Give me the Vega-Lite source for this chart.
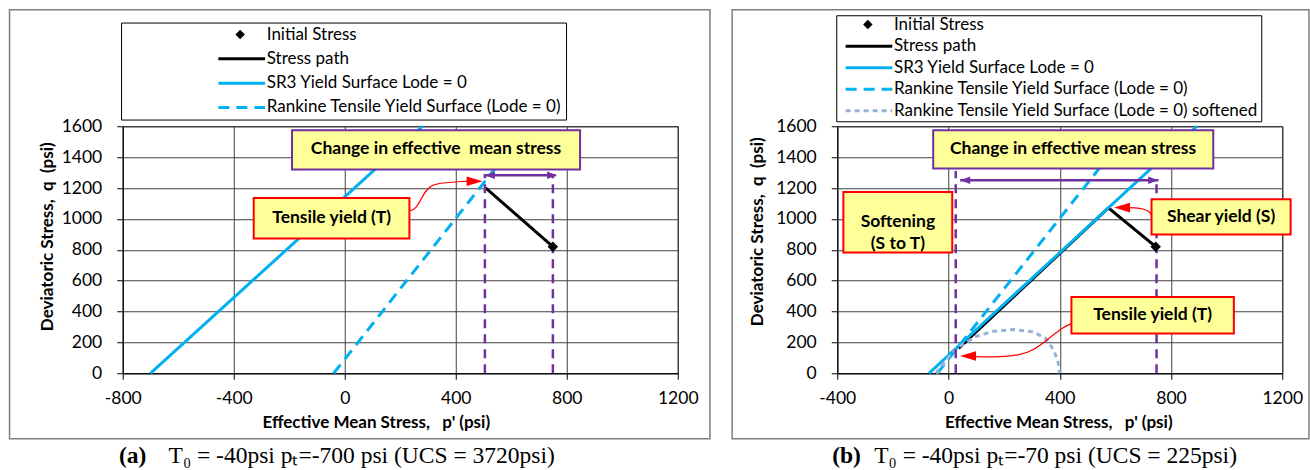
{
"$schema":"https://vega.github.io/schema/vega-lite/v6.json",
"background":"white",
"padding":{"left":7.75,"top":8.25,"right":0,"bottom":0},
"spacing":18.5,
"config":{
 "view":{"stroke":"black","strokeWidth":1},
 "axis":{"domainColor":"black","tickColor":"black","gridColor":"#404040","gridOpacity":1,"gridWidth":1,"grid":true,"labelFont":"Lato","labelFontSize":17.5,"labelColor":"black","titleFont":"Lato","titleFontSize":17,"titleFontWeight":"bold","titleColor":"black","tickSize":6,"labelFlush":false,"labelOverlap":false},
 "axisX":{"titleY":54,"titleBaseline":"alphabetic","titleAlign":"center"},
 "axisY":{"titleBaseline":"middle","titleAlign":"center","titleAngle":270},
 "legend":{"orient":"none","labelFont":"Lato","labelFontSize":17,"labelColor":"black","labelLimit":600,"strokeColor":"black","symbolType":"stroke","symbolSize":2180,"symbolStrokeWidth":3,"labelOffset":0,"titleFontSize":1,"titleOrient":"left"}
},
"datasets":{
 "a_lines":[
  {"series":"Stress path","i":0,"p":750,"q":820},
  {"series":"Stress path","i":1,"p":508,"q":1200},
  {"series":"SR3 Yield Surface Lode = 0","i":0,"p":-700,"q":0},
  {"series":"SR3 Yield Surface Lode = 0","i":1,"p":280,"q":1600},
  {"series":"Rankine Tensile Yield Surface (Lode = 0)","i":0,"p":-40,"q":0},
  {"series":"Rankine Tensile Yield Surface (Lode = 0)","i":1,"p":596,"q":1450}
 ],
 "a_init":[{"p":750,"q":820}],
 "a_vl":[{"p":505,"q":0,"q2":1290},{"p":750,"q":0,"q2":1290}],
 "a_arrow":[{"p":505,"p2":760,"q":1283}],
 "a_heads":[{"dir":"pl","p":523,"q":1283},{"dir":"pr","p":747,"q":1283}],
 "a_conn":[{"i":0,"p":233,"q":1051},{"i":1,"p":257,"q":1060},{"i":2,"p":287,"q":1174},{"i":3,"p":311,"q":1218},{"i":4,"p":347,"q":1233},{"i":5,"p":430,"q":1244},{"i":6,"p":460,"q":1244}],
 "a_rheads":[{"dir":"rr","p":468,"q":1244}],
 "a_boxes":[
  {"label":"Change in effective\u00a0 mean stress","kind":"purple","p":-190,"p2":848,"q":1574,"q2":1320,"pc":329,"qc":1452},
  {"label":"Tensile yield (T)","kind":"red","p":-328,"p2":233,"q":1136,"q2":873,"pc":-47,"qc":1006}
 ],
 "b_lines":[
  {"series":"Stress path","i":0,"p":745,"q":820},
  {"series":"Stress path","i":1,"p":575,"q":1071},
  {"series":"Stress path","i":2,"p":36,"q":161},
  {"series":"SR3 Yield Surface Lode = 0","i":0,"p":-70,"q":0},
  {"series":"SR3 Yield Surface Lode = 0","i":1,"p":893,"q":1600},
  {"series":"Rankine Tensile Yield Surface (Lode = 0)","i":0,"p":-40,"q":0},
  {"series":"Rankine Tensile Yield Surface (Lode = 0)","i":1,"p":596,"q":1450},
  {"series":"Rankine Tensile Yield Surface (Lode = 0) softened","i":0,"p":-45,"q":0},
  {"series":"Rankine Tensile Yield Surface (Lode = 0) softened","i":1,"p":-19,"q":63},
  {"series":"Rankine Tensile Yield Surface (Lode = 0) softened","i":2,"p":11,"q":128},
  {"series":"Rankine Tensile Yield Surface (Lode = 0) softened","i":3,"p":41,"q":175},
  {"series":"Rankine Tensile Yield Surface (Lode = 0) softened","i":4,"p":101,"q":240},
  {"series":"Rankine Tensile Yield Surface (Lode = 0) softened","i":5,"p":161,"q":272},
  {"series":"Rankine Tensile Yield Surface (Lode = 0) softened","i":6,"p":233,"q":283},
  {"series":"Rankine Tensile Yield Surface (Lode = 0) softened","i":7,"p":305,"q":268},
  {"series":"Rankine Tensile Yield Surface (Lode = 0) softened","i":8,"p":350,"q":225},
  {"series":"Rankine Tensile Yield Surface (Lode = 0) softened","i":9,"p":378,"q":150},
  {"series":"Rankine Tensile Yield Surface (Lode = 0) softened","i":10,"p":393,"q":80},
  {"series":"Rankine Tensile Yield Surface (Lode = 0) softened","i":11,"p":400,"q":0}
 ],
 "b_init":[{"p":745,"q":820}],
 "b_vl":[{"p":26,"q":0,"q2":1310},{"p":748,"q":0,"q2":1250}],
 "b_arrow":[{"p":42,"p2":755,"q":1250}],
 "b_heads":[{"dir":"pl","p":60,"q":1250},{"dir":"pr","p":736,"q":1250}],
 "b_conn":[
  {"id":"S","i":0,"p":730,"q":1023},{"id":"S","i":1,"p":724,"q":1045},{"id":"S","i":2,"p":705,"q":1064},{"id":"S","i":3,"p":670,"q":1073},{"id":"S","i":4,"p":632,"q":1073},
  {"id":"T","i":0,"p":442,"q":322},{"id":"T","i":1,"p":413,"q":300},{"id":"T","i":2,"p":353,"q":214},{"id":"T","i":3,"p":305,"q":149},{"id":"T","i":4,"p":257,"q":117},{"id":"T","i":5,"p":185,"q":106},{"id":"T","i":6,"p":110,"q":106},{"id":"T","i":7,"p":80,"q":110}
 ],
 "b_rheads":[{"dir":"rl","p":624,"q":1073},{"dir":"rl","p":70,"q":112}],
 "b_boxes":[
  {"label":"Change in effective mean stress","kind":"purple","p":-55,"p2":952,"q":1574,"q2":1326,"pc":448,"qc":1452},
  {"label":"Softening\n(S to T)","kind":"red","p":-378,"p2":13.5,"q":1174,"q2":782,"pc":-182,"qc":978},
  {"label":"Shear yield (S)","kind":"red","p":730,"p2":1230,"q":1127,"q2":898,"pc":980,"qc":1010},
  {"label":"Tensile yield (T)","kind":"red","p":442,"p2":1026,"q":494,"q2":257,"pc":734,"qc":376}
 ]
},
"resolve":{"scale":{"color":"independent","strokeDash":"independent"},"legend":{"color":"independent","strokeDash":"independent"}},
"hconcat":[
 {"width":555,"height":247,
  "layer":[
  {"data":{"name":"a_lines"},"mark":{"type":"line","strokeWidth":3},
   "encoding":{
    "x":{"field":"p","type":"quantitative","scale":{"domain":[-800,1200],"nice":false,"zero":false},"axis":{"values":[-800,-400,0,400,800,1200],"labelExpr":"''+datum.value","title":"Effective Mean Stress,\u00a0\u00a0 p' (psi)","titleX":253,"labelPadding":10.5}},
    "y":{"field":"q","type":"quantitative","scale":{"domain":[0,1600],"nice":false,"zero":false},"axis":{"values":[0,200,400,600,800,1000,1200,1400,1600],"labelExpr":"''+datum.value","title":"Deviatoric Stress,\u00a0 q\u00a0 (psi)","titleX":-75,"titleY":110,"labelPadding":15}},
    "order":{"field":"i"},
    "color":{"field":"series","type":"nominal","scale":{"domain":["Initial Stress","Stress path","SR3 Yield Surface Lode = 0","Rankine Tensile Yield Surface (Lode = 0)"],"range":["transparent","black","#00B0F0","#00B0F0"]},
     "legend":{"title":" ","legendX":-1.7,"legendY":-103.7,"padding":4,"clipHeight":16,"rowPadding":7.3,"titlePadding":91.7}},
    "strokeDash":{"field":"series","type":"nominal","scale":{"domain":["Initial Stress","Stress path","SR3 Yield Surface Lode = 0","Rankine Tensile Yield Surface (Lode = 0)"],"range":[[1,0],[1,0],[1,0],[11,7]]},
     "legend":{"title":" ","legendX":-1.7,"legendY":-103.7,"padding":4,"clipHeight":16,"rowPadding":7.3,"titlePadding":91.7}}
   }},
  {"data":{"values":[{}]},"mark":{"type":"rect","fill":"transparent","stroke":"#7f7f7f","strokeWidth":1.5},
   "encoding":{"x":{"datum":-1208,"type":"quantitative","scale":{"domain":[-800,1200],"nice":false,"zero":false},"axis":{"values":[-800,-400,0,400,800,1200],"labelExpr":"''+datum.value","title":"Effective Mean Stress,\u00a0\u00a0 p' (psi)","titleX":253,"labelPadding":10.5}},"x2":{"datum":1316},
    "y":{"datum":2355,"type":"quantitative","scale":{"domain":[0,1600],"nice":false,"zero":false},"axis":{"values":[0,200,400,600,800,1000,1200,1400,1600],"labelExpr":"''+datum.value","title":"Deviatoric Stress,\u00a0 q\u00a0 (psi)","titleX":-75,"titleY":110,"labelPadding":15}},"y2":{"datum":-424}}},
  {"data":{"values":[{}]},"mark":{"type":"point","shape":"diamond","filled":true,"color":"black","size":90,"opacity":1},
   "encoding":{"x":{"datum":-377,"type":"quantitative","scale":{"domain":[-800,1200],"nice":false,"zero":false},"axis":{"values":[-800,-400,0,400,800,1200],"labelExpr":"''+datum.value","title":"Effective Mean Stress,\u00a0\u00a0 p' (psi)","titleX":253,"labelPadding":10.5}},
    "y":{"datum":2194,"type":"quantitative","scale":{"domain":[0,1600],"nice":false,"zero":false},"axis":{"values":[0,200,400,600,800,1000,1200,1400,1600],"labelExpr":"''+datum.value","title":"Deviatoric Stress,\u00a0 q\u00a0 (psi)","titleX":-75,"titleY":110,"labelPadding":15}}}},
  {"data":{"name":"a_vl"},"mark":{"type":"rule","color":"#7030A0","strokeWidth":2.5,"strokeDash":[9,6]},
   "encoding":{"x":{"field":"p","type":"quantitative","scale":{"domain":[-800,1200],"nice":false,"zero":false},"axis":{"values":[-800,-400,0,400,800,1200],"labelExpr":"''+datum.value","title":"Effective Mean Stress,\u00a0\u00a0 p' (psi)","titleX":253,"labelPadding":10.5}},
    "y":{"field":"q","type":"quantitative","scale":{"domain":[0,1600],"nice":false,"zero":false},"axis":{"values":[0,200,400,600,800,1000,1200,1400,1600],"labelExpr":"''+datum.value","title":"Deviatoric Stress,\u00a0 q\u00a0 (psi)","titleX":-75,"titleY":110,"labelPadding":15}},"y2":{"field":"q2"}}},
  {"data":{"name":"a_arrow"},"mark":{"type":"rule","color":"#7030A0","strokeWidth":2.5},
   "encoding":{"x":{"field":"p","type":"quantitative","scale":{"domain":[-800,1200],"nice":false,"zero":false},"axis":{"values":[-800,-400,0,400,800,1200],"labelExpr":"''+datum.value","title":"Effective Mean Stress,\u00a0\u00a0 p' (psi)","titleX":253,"labelPadding":10.5}},"x2":{"field":"p2"},
    "y":{"field":"q","type":"quantitative","scale":{"domain":[0,1600],"nice":false,"zero":false},"axis":{"values":[0,200,400,600,800,1000,1200,1400,1600],"labelExpr":"''+datum.value","title":"Deviatoric Stress,\u00a0 q\u00a0 (psi)","titleX":-75,"titleY":110,"labelPadding":15}}}},
  {"data":{"name":"a_heads"},"mark":{"type":"point","filled":true,"color":"#7030A0","size":100,"opacity":1},
   "encoding":{"x":{"field":"p","type":"quantitative","scale":{"domain":[-800,1200],"nice":false,"zero":false},"axis":{"values":[-800,-400,0,400,800,1200],"labelExpr":"''+datum.value","title":"Effective Mean Stress,\u00a0\u00a0 p' (psi)","titleX":253,"labelPadding":10.5}},
    "y":{"field":"q","type":"quantitative","scale":{"domain":[0,1600],"nice":false,"zero":false},"axis":{"values":[0,200,400,600,800,1000,1200,1400,1600],"labelExpr":"''+datum.value","title":"Deviatoric Stress,\u00a0 q\u00a0 (psi)","titleX":-75,"titleY":110,"labelPadding":15}},
    "shape":{"field":"dir","type":"nominal","scale":{"domain":["pl","pr","rl","rr"],"range":["M-1,0L1,-0.75L1,0.75Z","M1,0L-1,-0.75L-1,0.75Z","M-1,0L1,-0.6L1,0.6Z","M1,0L-1,-0.6L-1,0.6Z"]},"legend":null}}},
  {"data":{"name":"a_init"},"mark":{"type":"point","shape":"diamond","filled":true,"color":"black","size":110,"opacity":1},
   "encoding":{"x":{"field":"p","type":"quantitative","scale":{"domain":[-800,1200],"nice":false,"zero":false},"axis":{"values":[-800,-400,0,400,800,1200],"labelExpr":"''+datum.value","title":"Effective Mean Stress,\u00a0\u00a0 p' (psi)","titleX":253,"labelPadding":10.5}},
    "y":{"field":"q","type":"quantitative","scale":{"domain":[0,1600],"nice":false,"zero":false},"axis":{"values":[0,200,400,600,800,1000,1200,1400,1600],"labelExpr":"''+datum.value","title":"Deviatoric Stress,\u00a0 q\u00a0 (psi)","titleX":-75,"titleY":110,"labelPadding":15}}}},
  {"data":{"name":"a_conn"},"mark":{"type":"line","color":"#FF0000","strokeWidth":1.2,"interpolate":"basis"},
   "encoding":{"x":{"field":"p","type":"quantitative","scale":{"domain":[-800,1200],"nice":false,"zero":false},"axis":{"values":[-800,-400,0,400,800,1200],"labelExpr":"''+datum.value","title":"Effective Mean Stress,\u00a0\u00a0 p' (psi)","titleX":253,"labelPadding":10.5}},
    "y":{"field":"q","type":"quantitative","scale":{"domain":[0,1600],"nice":false,"zero":false},"axis":{"values":[0,200,400,600,800,1000,1200,1400,1600],"labelExpr":"''+datum.value","title":"Deviatoric Stress,\u00a0 q\u00a0 (psi)","titleX":-75,"titleY":110,"labelPadding":15}},"order":{"field":"i"}}},
  {"data":{"name":"a_rheads"},"mark":{"type":"point","filled":true,"color":"#FF0000","size":256,"opacity":1},
   "encoding":{"x":{"field":"p","type":"quantitative","scale":{"domain":[-800,1200],"nice":false,"zero":false},"axis":{"values":[-800,-400,0,400,800,1200],"labelExpr":"''+datum.value","title":"Effective Mean Stress,\u00a0\u00a0 p' (psi)","titleX":253,"labelPadding":10.5}},
    "y":{"field":"q","type":"quantitative","scale":{"domain":[0,1600],"nice":false,"zero":false},"axis":{"values":[0,200,400,600,800,1000,1200,1400,1600],"labelExpr":"''+datum.value","title":"Deviatoric Stress,\u00a0 q\u00a0 (psi)","titleX":-75,"titleY":110,"labelPadding":15}},
    "shape":{"field":"dir","type":"nominal","scale":{"domain":["pl","pr","rl","rr"],"range":["M-1,0L1,-0.75L1,0.75Z","M1,0L-1,-0.75L-1,0.75Z","M-1,0L1,-0.6L1,0.6Z","M1,0L-1,-0.6L-1,0.6Z"]},"legend":null}}},
  {"data":{"name":"a_boxes"},"mark":{"type":"rect","fill":"#a6a6a6","opacity":0.45,"xOffset":3,"yOffset":3},
   "encoding":{"x":{"field":"p","type":"quantitative","scale":{"domain":[-800,1200],"nice":false,"zero":false},"axis":{"values":[-800,-400,0,400,800,1200],"labelExpr":"''+datum.value","title":"Effective Mean Stress,\u00a0\u00a0 p' (psi)","titleX":253,"labelPadding":10.5}},"x2":{"field":"p2"},
    "y":{"field":"q","type":"quantitative","scale":{"domain":[0,1600],"nice":false,"zero":false},"axis":{"values":[0,200,400,600,800,1000,1200,1400,1600],"labelExpr":"''+datum.value","title":"Deviatoric Stress,\u00a0 q\u00a0 (psi)","titleX":-75,"titleY":110,"labelPadding":15}},"y2":{"field":"q2"}}},
  {"data":{"name":"a_boxes"},"mark":{"type":"rect","fill":"#FFFF99","strokeWidth":2},
   "encoding":{"x":{"field":"p","type":"quantitative","scale":{"domain":[-800,1200],"nice":false,"zero":false},"axis":{"values":[-800,-400,0,400,800,1200],"labelExpr":"''+datum.value","title":"Effective Mean Stress,\u00a0\u00a0 p' (psi)","titleX":253,"labelPadding":10.5}},"x2":{"field":"p2"},
    "y":{"field":"q","type":"quantitative","scale":{"domain":[0,1600],"nice":false,"zero":false},"axis":{"values":[0,200,400,600,800,1000,1200,1400,1600],"labelExpr":"''+datum.value","title":"Deviatoric Stress,\u00a0 q\u00a0 (psi)","titleX":-75,"titleY":110,"labelPadding":15}},"y2":{"field":"q2"},
    "stroke":{"field":"kind","type":"nominal","scale":{"domain":["purple","red"],"range":["#7030A0","#FF0000"]},"legend":null}}},
  {"data":{"name":"a_boxes"},"mark":{"type":"text","font":"Lato","fontSize":17.5,"fontWeight":"bold","color":"black","lineBreak":"\n","lineHeight":22},
   "encoding":{"x":{"field":"pc","type":"quantitative","scale":{"domain":[-800,1200],"nice":false,"zero":false},"axis":{"values":[-800,-400,0,400,800,1200],"labelExpr":"''+datum.value","title":"Effective Mean Stress,\u00a0\u00a0 p' (psi)","titleX":253,"labelPadding":10.5}},
    "y":{"field":"qc","type":"quantitative","scale":{"domain":[0,1600],"nice":false,"zero":false},"axis":{"values":[0,200,400,600,800,1000,1200,1400,1600],"labelExpr":"''+datum.value","title":"Deviatoric Stress,\u00a0 q\u00a0 (psi)","titleX":-75,"titleY":110,"labelPadding":15}},"text":{"field":"label"}}},
  {"data":{"values":[{"t":"(a)"}]},"mark":{"type":"text","font":"Liberation Serif","fontSize":23.5,"fontWeight":"bold","align":"right","baseline":"alphabetic","color":"black"},
   "encoding":{"x":{"datum":-715,"type":"quantitative","scale":{"domain":[-800,1200],"nice":false,"zero":false},"axis":{"values":[-800,-400,0,400,800,1200],"labelExpr":"''+datum.value","title":"Effective Mean Stress,\u00a0\u00a0 p' (psi)","titleX":253,"labelPadding":10.5}},
    "y":{"datum":-580,"type":"quantitative","scale":{"domain":[0,1600],"nice":false,"zero":false},"axis":{"values":[0,200,400,600,800,1000,1200,1400,1600],"labelExpr":"''+datum.value","title":"Deviatoric Stress,\u00a0 q\u00a0 (psi)","titleX":-75,"titleY":110,"labelPadding":15}},"text":{"field":"t"}}},
  {"data":{"values":[{"t":"T₀ = -40psi pₜ=-700 psi (UCS = 3720psi)"}]},"mark":{"type":"text","font":"Liberation Serif","fontSize":23.5,"align":"left","baseline":"alphabetic","color":"black"},
   "encoding":{"x":{"datum":-635,"type":"quantitative","scale":{"domain":[-800,1200],"nice":false,"zero":false},"axis":{"values":[-800,-400,0,400,800,1200],"labelExpr":"''+datum.value","title":"Effective Mean Stress,\u00a0\u00a0 p' (psi)","titleX":253,"labelPadding":10.5}},
    "y":{"datum":-580,"type":"quantitative","scale":{"domain":[0,1600],"nice":false,"zero":false},"axis":{"values":[0,200,400,600,800,1000,1200,1400,1600],"labelExpr":"''+datum.value","title":"Deviatoric Stress,\u00a0 q\u00a0 (psi)","titleX":-75,"titleY":110,"labelPadding":15}},"text":{"field":"t"}}}
 ]},
 {"width":445,"height":247,
  "layer":[
  {"data":{"name":"b_lines"},"mark":{"type":"line","strokeWidth":3},
   "encoding":{
    "x":{"field":"p","type":"quantitative","scale":{"domain":[-400,1200],"nice":false,"zero":false},"axis":{"values":[-400,0,400,800,1200],"labelExpr":"''+datum.value","title":"Effective Mean Stress,\u00a0\u00a0 p' (psi)","titleX":221,"labelPadding":10.5}},
    "y":{"field":"q","type":"quantitative","scale":{"domain":[0,1600],"nice":false,"zero":false},"axis":{"values":[0,200,400,600,800,1000,1200,1400,1600],"labelExpr":"''+datum.value","title":"Deviatoric Stress,\u00a0 q\u00a0 (psi)","titleX":-80,"titleY":105,"labelPadding":15}},
    "order":{"field":"i"},
    "color":{"field":"series","type":"nominal","scale":{"domain":["Initial Stress","Stress path","SR3 Yield Surface Lode = 0","Rankine Tensile Yield Surface (Lode = 0)","Rankine Tensile Yield Surface (Lode = 0) softened"],"range":["transparent","black","#00B0F0","#00B0F0","#95B3D7"]},
     "legend":{"title":" ","legendX":-1,"legendY":-111,"padding":2,"clipHeight":15,"rowPadding":3.5,"titlePadding":5.7}},
    "strokeDash":{"field":"series","type":"nominal","scale":{"domain":["Initial Stress","Stress path","SR3 Yield Surface Lode = 0","Rankine Tensile Yield Surface (Lode = 0)","Rankine Tensile Yield Surface (Lode = 0) softened"],"range":[[1,0],[1,0],[1,0],[11,7],[5,4]]},
     "legend":{"title":" ","legendX":-1,"legendY":-111,"padding":2,"clipHeight":15,"rowPadding":3.5,"titlePadding":5.7}}
   }},
  {"data":{"values":[{}]},"mark":{"type":"rect","fill":"transparent","stroke":"#7f7f7f","strokeWidth":1.5},
   "encoding":{"x":{"datum":-778,"type":"quantitative","scale":{"domain":[-400,1200],"nice":false,"zero":false},"axis":{"values":[-400,0,400,800,1200],"labelExpr":"''+datum.value","title":"Effective Mean Stress,\u00a0\u00a0 p' (psi)","titleX":221,"labelPadding":10.5}},"x2":{"datum":1296},
    "y":{"datum":2355,"type":"quantitative","scale":{"domain":[0,1600],"nice":false,"zero":false},"axis":{"values":[0,200,400,600,800,1000,1200,1400,1600],"labelExpr":"''+datum.value","title":"Deviatoric Stress,\u00a0 q\u00a0 (psi)","titleX":-80,"titleY":105,"labelPadding":15}},"y2":{"datum":-424}}},
  {"data":{"values":[{}]},"mark":{"type":"point","shape":"diamond","filled":true,"color":"black","size":90,"opacity":1},
   "encoding":{"x":{"datum":-290,"type":"quantitative","scale":{"domain":[-400,1200],"nice":false,"zero":false},"axis":{"values":[-400,0,400,800,1200],"labelExpr":"''+datum.value","title":"Effective Mean Stress,\u00a0\u00a0 p' (psi)","titleX":221,"labelPadding":10.5}},
    "y":{"datum":2259,"type":"quantitative","scale":{"domain":[0,1600],"nice":false,"zero":false},"axis":{"values":[0,200,400,600,800,1000,1200,1400,1600],"labelExpr":"''+datum.value","title":"Deviatoric Stress,\u00a0 q\u00a0 (psi)","titleX":-80,"titleY":105,"labelPadding":15}}}},
  {"data":{"name":"b_vl"},"mark":{"type":"rule","color":"#7030A0","strokeWidth":2.5,"strokeDash":[9,6]},
   "encoding":{"x":{"field":"p","type":"quantitative","scale":{"domain":[-400,1200],"nice":false,"zero":false},"axis":{"values":[-400,0,400,800,1200],"labelExpr":"''+datum.value","title":"Effective Mean Stress,\u00a0\u00a0 p' (psi)","titleX":221,"labelPadding":10.5}},
    "y":{"field":"q","type":"quantitative","scale":{"domain":[0,1600],"nice":false,"zero":false},"axis":{"values":[0,200,400,600,800,1000,1200,1400,1600],"labelExpr":"''+datum.value","title":"Deviatoric Stress,\u00a0 q\u00a0 (psi)","titleX":-80,"titleY":105,"labelPadding":15}},"y2":{"field":"q2"}}},
  {"data":{"name":"b_arrow"},"mark":{"type":"rule","color":"#7030A0","strokeWidth":2.5},
   "encoding":{"x":{"field":"p","type":"quantitative","scale":{"domain":[-400,1200],"nice":false,"zero":false},"axis":{"values":[-400,0,400,800,1200],"labelExpr":"''+datum.value","title":"Effective Mean Stress,\u00a0\u00a0 p' (psi)","titleX":221,"labelPadding":10.5}},"x2":{"field":"p2"},
    "y":{"field":"q","type":"quantitative","scale":{"domain":[0,1600],"nice":false,"zero":false},"axis":{"values":[0,200,400,600,800,1000,1200,1400,1600],"labelExpr":"''+datum.value","title":"Deviatoric Stress,\u00a0 q\u00a0 (psi)","titleX":-80,"titleY":105,"labelPadding":15}}}},
  {"data":{"name":"b_heads"},"mark":{"type":"point","filled":true,"color":"#7030A0","size":100,"opacity":1},
   "encoding":{"x":{"field":"p","type":"quantitative","scale":{"domain":[-400,1200],"nice":false,"zero":false},"axis":{"values":[-400,0,400,800,1200],"labelExpr":"''+datum.value","title":"Effective Mean Stress,\u00a0\u00a0 p' (psi)","titleX":221,"labelPadding":10.5}},
    "y":{"field":"q","type":"quantitative","scale":{"domain":[0,1600],"nice":false,"zero":false},"axis":{"values":[0,200,400,600,800,1000,1200,1400,1600],"labelExpr":"''+datum.value","title":"Deviatoric Stress,\u00a0 q\u00a0 (psi)","titleX":-80,"titleY":105,"labelPadding":15}},
    "shape":{"field":"dir","type":"nominal","scale":{"domain":["pl","pr","rl","rr"],"range":["M-1,0L1,-0.75L1,0.75Z","M1,0L-1,-0.75L-1,0.75Z","M-1,0L1,-0.6L1,0.6Z","M1,0L-1,-0.6L-1,0.6Z"]},"legend":null}}},
  {"data":{"name":"b_init"},"mark":{"type":"point","shape":"diamond","filled":true,"color":"black","size":110,"opacity":1},
   "encoding":{"x":{"field":"p","type":"quantitative","scale":{"domain":[-400,1200],"nice":false,"zero":false},"axis":{"values":[-400,0,400,800,1200],"labelExpr":"''+datum.value","title":"Effective Mean Stress,\u00a0\u00a0 p' (psi)","titleX":221,"labelPadding":10.5}},
    "y":{"field":"q","type":"quantitative","scale":{"domain":[0,1600],"nice":false,"zero":false},"axis":{"values":[0,200,400,600,800,1000,1200,1400,1600],"labelExpr":"''+datum.value","title":"Deviatoric Stress,\u00a0 q\u00a0 (psi)","titleX":-80,"titleY":105,"labelPadding":15}}}},
  {"data":{"name":"b_conn"},"mark":{"type":"line","color":"#FF0000","strokeWidth":1.2,"interpolate":"basis"},
   "encoding":{"x":{"field":"p","type":"quantitative","scale":{"domain":[-400,1200],"nice":false,"zero":false},"axis":{"values":[-400,0,400,800,1200],"labelExpr":"''+datum.value","title":"Effective Mean Stress,\u00a0\u00a0 p' (psi)","titleX":221,"labelPadding":10.5}},
    "y":{"field":"q","type":"quantitative","scale":{"domain":[0,1600],"nice":false,"zero":false},"axis":{"values":[0,200,400,600,800,1000,1200,1400,1600],"labelExpr":"''+datum.value","title":"Deviatoric Stress,\u00a0 q\u00a0 (psi)","titleX":-80,"titleY":105,"labelPadding":15}},"detail":{"field":"id"},"order":{"field":"i"}}},
  {"data":{"name":"b_rheads"},"mark":{"type":"point","filled":true,"color":"#FF0000","size":256,"opacity":1},
   "encoding":{"x":{"field":"p","type":"quantitative","scale":{"domain":[-400,1200],"nice":false,"zero":false},"axis":{"values":[-400,0,400,800,1200],"labelExpr":"''+datum.value","title":"Effective Mean Stress,\u00a0\u00a0 p' (psi)","titleX":221,"labelPadding":10.5}},
    "y":{"field":"q","type":"quantitative","scale":{"domain":[0,1600],"nice":false,"zero":false},"axis":{"values":[0,200,400,600,800,1000,1200,1400,1600],"labelExpr":"''+datum.value","title":"Deviatoric Stress,\u00a0 q\u00a0 (psi)","titleX":-80,"titleY":105,"labelPadding":15}},
    "shape":{"field":"dir","type":"nominal","scale":{"domain":["pl","pr","rl","rr"],"range":["M-1,0L1,-0.75L1,0.75Z","M1,0L-1,-0.75L-1,0.75Z","M-1,0L1,-0.6L1,0.6Z","M1,0L-1,-0.6L-1,0.6Z"]},"legend":null}}},
  {"data":{"name":"b_boxes"},"mark":{"type":"rect","fill":"#a6a6a6","opacity":0.45,"xOffset":3,"yOffset":3},
   "encoding":{"x":{"field":"p","type":"quantitative","scale":{"domain":[-400,1200],"nice":false,"zero":false},"axis":{"values":[-400,0,400,800,1200],"labelExpr":"''+datum.value","title":"Effective Mean Stress,\u00a0\u00a0 p' (psi)","titleX":221,"labelPadding":10.5}},"x2":{"field":"p2"},
    "y":{"field":"q","type":"quantitative","scale":{"domain":[0,1600],"nice":false,"zero":false},"axis":{"values":[0,200,400,600,800,1000,1200,1400,1600],"labelExpr":"''+datum.value","title":"Deviatoric Stress,\u00a0 q\u00a0 (psi)","titleX":-80,"titleY":105,"labelPadding":15}},"y2":{"field":"q2"}}},
  {"data":{"name":"b_boxes"},"mark":{"type":"rect","fill":"#FFFF99","strokeWidth":2},
   "encoding":{"x":{"field":"p","type":"quantitative","scale":{"domain":[-400,1200],"nice":false,"zero":false},"axis":{"values":[-400,0,400,800,1200],"labelExpr":"''+datum.value","title":"Effective Mean Stress,\u00a0\u00a0 p' (psi)","titleX":221,"labelPadding":10.5}},"x2":{"field":"p2"},
    "y":{"field":"q","type":"quantitative","scale":{"domain":[0,1600],"nice":false,"zero":false},"axis":{"values":[0,200,400,600,800,1000,1200,1400,1600],"labelExpr":"''+datum.value","title":"Deviatoric Stress,\u00a0 q\u00a0 (psi)","titleX":-80,"titleY":105,"labelPadding":15}},"y2":{"field":"q2"},
    "stroke":{"field":"kind","type":"nominal","scale":{"domain":["purple","red"],"range":["#7030A0","#FF0000"]},"legend":null}}},
  {"data":{"name":"b_boxes"},"mark":{"type":"text","font":"Lato","fontSize":17.5,"fontWeight":"bold","color":"black","lineBreak":"\n","lineHeight":22},
   "encoding":{"x":{"field":"pc","type":"quantitative","scale":{"domain":[-400,1200],"nice":false,"zero":false},"axis":{"values":[-400,0,400,800,1200],"labelExpr":"''+datum.value","title":"Effective Mean Stress,\u00a0\u00a0 p' (psi)","titleX":221,"labelPadding":10.5}},
    "y":{"field":"qc","type":"quantitative","scale":{"domain":[0,1600],"nice":false,"zero":false},"axis":{"values":[0,200,400,600,800,1000,1200,1400,1600],"labelExpr":"''+datum.value","title":"Deviatoric Stress,\u00a0 q\u00a0 (psi)","titleX":-80,"titleY":105,"labelPadding":15}},"text":{"field":"label"}}},
  {"data":{"values":[{"t":"(b)"}]},"mark":{"type":"text","font":"Liberation Serif","fontSize":23.5,"fontWeight":"bold","align":"right","baseline":"alphabetic","color":"black"},
   "encoding":{"x":{"datum":-315,"type":"quantitative","scale":{"domain":[-400,1200],"nice":false,"zero":false},"axis":{"values":[-400,0,400,800,1200],"labelExpr":"''+datum.value","title":"Effective Mean Stress,\u00a0\u00a0 p' (psi)","titleX":221,"labelPadding":10.5}},
    "y":{"datum":-580,"type":"quantitative","scale":{"domain":[0,1600],"nice":false,"zero":false},"axis":{"values":[0,200,400,600,800,1000,1200,1400,1600],"labelExpr":"''+datum.value","title":"Deviatoric Stress,\u00a0 q\u00a0 (psi)","titleX":-80,"titleY":105,"labelPadding":15}},"text":{"field":"t"}}},
  {"data":{"values":[{"t":"T₀ = -40psi pₜ=-70 psi (UCS = 225psi)"}]},"mark":{"type":"text","font":"Liberation Serif","fontSize":23.5,"align":"left","baseline":"alphabetic","color":"black"},
   "encoding":{"x":{"datum":-267,"type":"quantitative","scale":{"domain":[-400,1200],"nice":false,"zero":false},"axis":{"values":[-400,0,400,800,1200],"labelExpr":"''+datum.value","title":"Effective Mean Stress,\u00a0\u00a0 p' (psi)","titleX":221,"labelPadding":10.5}},
    "y":{"datum":-580,"type":"quantitative","scale":{"domain":[0,1600],"nice":false,"zero":false},"axis":{"values":[0,200,400,600,800,1000,1200,1400,1600],"labelExpr":"''+datum.value","title":"Deviatoric Stress,\u00a0 q\u00a0 (psi)","titleX":-80,"titleY":105,"labelPadding":15}},"text":{"field":"t"}}}
 ]}
]
}
